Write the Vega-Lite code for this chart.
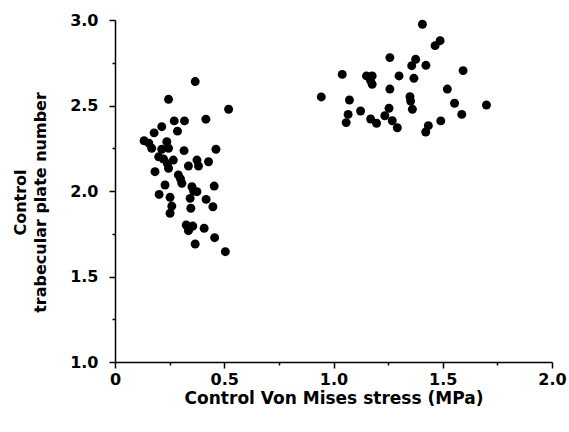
{
  "$schema": "https://vega.github.io/schema/vega-lite/v6.json",
  "autosize": "none",
  "width": 437,
  "height": 342,
  "padding": {"left": 115, "top": 20, "right": 17, "bottom": 70},
  "background": "white",
  "config": {
    "view": {"stroke": null},
    "font": "DejaVu Sans"
  },
  "data": {"values": [
    {"x": 0.367, "y": 2.64}, {"x": 0.245, "y": 2.536}, {"x": 0.52, "y": 2.478}, {"x": 0.416, "y": 2.42},
    {"x": 0.271, "y": 2.41}, {"x": 0.318, "y": 2.41}, {"x": 0.214, "y": 2.376}, {"x": 0.179, "y": 2.34},
    {"x": 0.286, "y": 2.35}, {"x": 0.133, "y": 2.294}, {"x": 0.237, "y": 2.288}, {"x": 0.168, "y": 2.25},
    {"x": 0.214, "y": 2.244}, {"x": 0.245, "y": 2.25}, {"x": 0.316, "y": 2.236}, {"x": 0.462, "y": 2.244},
    {"x": 0.222, "y": 2.187}, {"x": 0.267, "y": 2.181}, {"x": 0.375, "y": 2.181}, {"x": 0.428, "y": 2.171},
    {"x": 0.336, "y": 2.146}, {"x": 0.382, "y": 2.146}, {"x": 0.245, "y": 2.133}, {"x": 0.183, "y": 2.113},
    {"x": 0.29, "y": 2.094}, {"x": 0.306, "y": 2.045}, {"x": 0.229, "y": 2.035}, {"x": 0.352, "y": 2.025},
    {"x": 0.454, "y": 2.029}, {"x": 0.375, "y": 1.996}, {"x": 0.202, "y": 1.98}, {"x": 0.252, "y": 1.963},
    {"x": 0.344, "y": 1.957}, {"x": 0.417, "y": 1.951}, {"x": 0.26, "y": 1.912}, {"x": 0.347, "y": 1.899},
    {"x": 0.448, "y": 1.908}, {"x": 0.252, "y": 1.87}, {"x": 0.326, "y": 1.801}, {"x": 0.356, "y": 1.795},
    {"x": 0.336, "y": 1.768}, {"x": 0.408, "y": 1.782}, {"x": 0.456, "y": 1.727}, {"x": 0.367, "y": 1.69},
    {"x": 0.505, "y": 1.645}, {"x": 0.155, "y": 2.28}, {"x": 0.2, "y": 2.2}, {"x": 0.3, "y": 2.07},
    {"x": 0.36, "y": 2.0}, {"x": 0.24, "y": 2.16}, {"x": 0.34, "y": 1.78},
    {"x": 1.407, "y": 2.975}, {"x": 1.488, "y": 2.879}, {"x": 1.465, "y": 2.85}, {"x": 1.258, "y": 2.78},
    {"x": 1.376, "y": 2.77}, {"x": 1.358, "y": 2.733}, {"x": 1.423, "y": 2.735}, {"x": 1.593, "y": 2.704},
    {"x": 1.04, "y": 2.682}, {"x": 1.151, "y": 2.673}, {"x": 1.177, "y": 2.673}, {"x": 1.3, "y": 2.673},
    {"x": 1.17, "y": 2.645}, {"x": 1.368, "y": 2.659}, {"x": 1.177, "y": 2.624}, {"x": 1.258, "y": 2.596},
    {"x": 1.521, "y": 2.596}, {"x": 0.944, "y": 2.55}, {"x": 1.073, "y": 2.532}, {"x": 1.35, "y": 2.551},
    {"x": 1.353, "y": 2.526}, {"x": 1.554, "y": 2.513}, {"x": 1.7, "y": 2.503}, {"x": 1.361, "y": 2.478},
    {"x": 1.124, "y": 2.468}, {"x": 1.254, "y": 2.484}, {"x": 1.067, "y": 2.448}, {"x": 1.587, "y": 2.448},
    {"x": 1.235, "y": 2.44}, {"x": 1.058, "y": 2.4}, {"x": 1.17, "y": 2.421}, {"x": 1.197, "y": 2.396},
    {"x": 1.269, "y": 2.411}, {"x": 1.292, "y": 2.37}, {"x": 1.434, "y": 2.382}, {"x": 1.422, "y": 2.345},
    {"x": 1.491, "y": 2.41}
  ]},
  "mark": {"type": "circle", "size": 80, "color": "black", "opacity": 1},
  "encoding": {
    "x": {
      "field": "x", "type": "quantitative",
      "scale": {"domain": [0, 2], "nice": false, "zero": false},
      "axis": {
        "title": "Control Von Mises stress (MPa)",
        "values": [0, 0.25, 0.5, 0.75, 1, 1.25, 1.5, 1.75, 2],
        "labelExpr": "datum.value % 0.5 === 0 ? (datum.value === 0 ? '0' : format(datum.value, '.1f')) : ''",
        "grid": false,
        "domainColor": "black", "domainWidth": 1.5,
        "tickColor": "black", "tickWidth": 1.5,
        "tickSize": {"condition": {"test": "datum.value % 0.5 !== 0", "value": 3}, "value": 6},
        "labelPadding": 3,
        "labelFont": "DejaVu Sans", "labelFontSize": 16, "labelFontWeight": "bold", "labelColor": "black",
        "labelFlush": false,
        "titleFont": "DejaVu Sans", "titleFontSize": 17, "titleFontWeight": "bold", "titleColor": "black",
        "titlePadding": 3
      }
    },
    "y": {
      "field": "y", "type": "quantitative",
      "scale": {"domain": [1, 3], "nice": false, "zero": false},
      "axis": {
        "title": ["Control", "trabecular plate number"],
        "values": [1, 1.25, 1.5, 1.75, 2, 2.25, 2.5, 2.75, 3],
        "labelExpr": "datum.value % 0.5 === 0 ? format(datum.value, '.1f') : ''",
        "grid": false,
        "domainColor": "black", "domainWidth": 1.5,
        "tickColor": "black", "tickWidth": 1.5,
        "tickSize": {"condition": {"test": "datum.value % 0.5 !== 0", "value": 3}, "value": 6},
        "labelPadding": 11,
        "labelFont": "DejaVu Sans", "labelFontSize": 16, "labelFontWeight": "bold", "labelColor": "black",
        "labelFlush": false,
        "titleFont": "DejaVu Sans", "titleFontSize": 16, "titleFontWeight": "bold", "titleColor": "black",
        "titleX": -95, "titleY": 182, "titleAlign": "center", "titleBaseline": "middle", "titleLineHeight": 20
      }
    }
  }
}
